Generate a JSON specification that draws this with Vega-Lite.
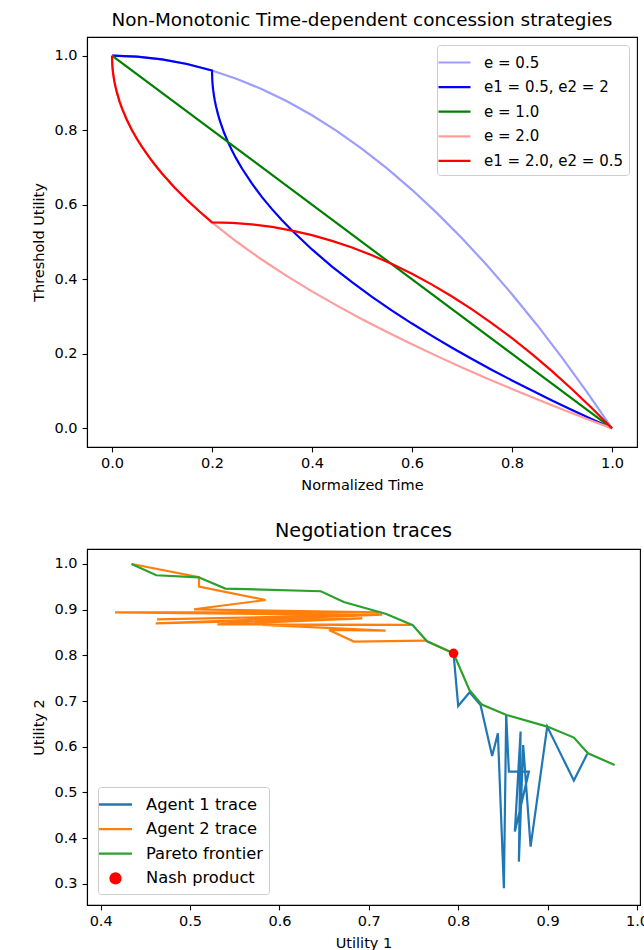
{
  "$schema": "https://vega.github.io/schema/vega-lite/v6.json",
  "padding": {"left": 30, "top": 10, "right": 5, "bottom": 5},
  "spacing": 28,
  "config": {
    "font": "DejaVu Sans",
    "view": {"stroke": "black", "strokeWidth": 1.1},
    "axis": {"grid": false, "domainColor": "black", "domainWidth": 1.1, "tickColor": "black", "tickWidth": 1.1, "tickSize": 4.9, "labelColor": "black", "titleColor": "black", "labelFontSize": 14.5, "titleFontSize": 14.5, "titleFontWeight": "normal", "labelPadding": 5, "labelFlush": false, "titlePadding": 8},
    "title": {"fontSize": 18.4, "fontWeight": "normal", "color": "black", "offset": 8},
    "legend": {"fillColor": "white", "strokeColor": "#cccccc", "cornerRadius": 3, "padding": 6, "labelFontSize": 15, "labelColor": "black", "symbolType": "M-1.6,0H1.6", "symbolSize": 400, "symbolStrokeWidth": 2.2, "labelOffset": 18, "rowPadding": 4.6, "offset": 8}
  },
  "resolve": {"scale": {"color": "independent"}, "legend": {"color": "independent"}},
  "datasets": {
    "top": [
      {"s": "e = 0.5", "t": 0, "u": 1}, {"s": "e = 0.5", "t": 0.05, "u": 0.9975}, {"s": "e = 0.5", "t": 0.1, "u": 0.99}, {"s": "e = 0.5", "t": 0.15, "u": 0.9775}, {"s": "e = 0.5", "t": 0.2, "u": 0.96}, {"s": "e = 0.5", "t": 0.25, "u": 0.9375}, {"s": "e = 0.5", "t": 0.3, "u": 0.91}, {"s": "e = 0.5", "t": 0.35, "u": 0.8775}, {"s": "e = 0.5", "t": 0.4, "u": 0.84}, {"s": "e = 0.5", "t": 0.45, "u": 0.7975}, {"s": "e = 0.5", "t": 0.5, "u": 0.75}, {"s": "e = 0.5", "t": 0.55, "u": 0.6975}, {"s": "e = 0.5", "t": 0.6, "u": 0.64}, {"s": "e = 0.5", "t": 0.65, "u": 0.5775}, {"s": "e = 0.5", "t": 0.7, "u": 0.51}, {"s": "e = 0.5", "t": 0.75, "u": 0.4375}, {"s": "e = 0.5", "t": 0.8, "u": 0.36}, {"s": "e = 0.5", "t": 0.85, "u": 0.2775}, {"s": "e = 0.5", "t": 0.9, "u": 0.19}, {"s": "e = 0.5", "t": 0.95, "u": 0.0975}, {"s": "e = 0.5", "t": 1, "u": 0},
      {"s": "e1 = 0.5, e2 = 2", "t": 0, "u": 1}, {"s": "e1 = 0.5, e2 = 2", "t": 0.05, "u": 0.9975}, {"s": "e1 = 0.5, e2 = 2", "t": 0.1, "u": 0.99}, {"s": "e1 = 0.5, e2 = 2", "t": 0.15, "u": 0.9775}, {"s": "e1 = 0.5, e2 = 2", "t": 0.2, "u": 0.96}, {"s": "e1 = 0.5, e2 = 2", "t": 0.2004, "u": 0.9385}, {"s": "e1 = 0.5, e2 = 2", "t": 0.2008, "u": 0.9297}, {"s": "e1 = 0.5, e2 = 2", "t": 0.2016, "u": 0.9171}, {"s": "e1 = 0.5, e2 = 2", "t": 0.2024, "u": 0.9074}, {"s": "e1 = 0.5, e2 = 2", "t": 0.204, "u": 0.8921}, {"s": "e1 = 0.5, e2 = 2", "t": 0.2056, "u": 0.8797}, {"s": "e1 = 0.5, e2 = 2", "t": 0.208, "u": 0.864}, {"s": "e1 = 0.5, e2 = 2", "t": 0.212, "u": 0.8424}, {"s": "e1 = 0.5, e2 = 2", "t": 0.216, "u": 0.8243}, {"s": "e1 = 0.5, e2 = 2", "t": 0.224, "u": 0.7937}, {"s": "e1 = 0.5, e2 = 2", "t": 0.232, "u": 0.768}, {"s": "e1 = 0.5, e2 = 2", "t": 0.24, "u": 0.7453}, {"s": "e1 = 0.5, e2 = 2", "t": 0.248, "u": 0.7249}, {"s": "e1 = 0.5, e2 = 2", "t": 0.26, "u": 0.6971}, {"s": "e1 = 0.5, e2 = 2", "t": 0.28, "u": 0.6564}, {"s": "e1 = 0.5, e2 = 2", "t": 0.3, "u": 0.6205}, {"s": "e1 = 0.5, e2 = 2", "t": 0.32, "u": 0.5882}, {"s": "e1 = 0.5, e2 = 2", "t": 0.34, "u": 0.5584}, {"s": "e1 = 0.5, e2 = 2", "t": 0.36, "u": 0.5307}, {"s": "e1 = 0.5, e2 = 2", "t": 0.4, "u": 0.48}, {"s": "e1 = 0.5, e2 = 2", "t": 0.44, "u": 0.4342}, {"s": "e1 = 0.5, e2 = 2", "t": 0.48, "u": 0.3921}, {"s": "e1 = 0.5, e2 = 2", "t": 0.52, "u": 0.3528}, {"s": "e1 = 0.5, e2 = 2", "t": 0.56, "u": 0.316}, {"s": "e1 = 0.5, e2 = 2", "t": 0.6, "u": 0.2812}, {"s": "e1 = 0.5, e2 = 2", "t": 0.64, "u": 0.2481}, {"s": "e1 = 0.5, e2 = 2", "t": 0.68, "u": 0.2164}, {"s": "e1 = 0.5, e2 = 2", "t": 0.72, "u": 0.186}, {"s": "e1 = 0.5, e2 = 2", "t": 0.76, "u": 0.1568}, {"s": "e1 = 0.5, e2 = 2", "t": 0.8, "u": 0.1286}, {"s": "e1 = 0.5, e2 = 2", "t": 0.84, "u": 0.1014}, {"s": "e1 = 0.5, e2 = 2", "t": 0.88, "u": 0.0749}, {"s": "e1 = 0.5, e2 = 2", "t": 0.92, "u": 0.0492}, {"s": "e1 = 0.5, e2 = 2", "t": 0.96, "u": 0.0243}, {"s": "e1 = 0.5, e2 = 2", "t": 1, "u": 0},
      {"s": "e = 1.0", "t": 0, "u": 1}, {"s": "e = 1.0", "t": 1, "u": 0},
      {"s": "e = 2.0", "t": 0, "u": 1}, {"s": "e = 2.0", "t": 0.0005, "u": 0.9776}, {"s": "e = 2.0", "t": 0.001, "u": 0.9684}, {"s": "e = 2.0", "t": 0.002, "u": 0.9553}, {"s": "e = 2.0", "t": 0.003, "u": 0.9452}, {"s": "e = 2.0", "t": 0.005, "u": 0.9293}, {"s": "e = 2.0", "t": 0.007, "u": 0.9163}, {"s": "e = 2.0", "t": 0.01, "u": 0.9}, {"s": "e = 2.0", "t": 0.015, "u": 0.8775}, {"s": "e = 2.0", "t": 0.02, "u": 0.8586}, {"s": "e = 2.0", "t": 0.03, "u": 0.8268}, {"s": "e = 2.0", "t": 0.04, "u": 0.8}, {"s": "e = 2.0", "t": 0.05, "u": 0.7764}, {"s": "e = 2.0", "t": 0.06, "u": 0.7551}, {"s": "e = 2.0", "t": 0.075, "u": 0.7261}, {"s": "e = 2.0", "t": 0.085, "u": 0.7085}, {"s": "e = 2.0", "t": 0.1, "u": 0.6838}, {"s": "e = 2.0", "t": 0.125, "u": 0.6464}, {"s": "e = 2.0", "t": 0.15, "u": 0.6127}, {"s": "e = 2.0", "t": 0.175, "u": 0.5817}, {"s": "e = 2.0", "t": 0.2, "u": 0.5528}, {"s": "e = 2.0", "t": 0.25, "u": 0.5}, {"s": "e = 2.0", "t": 0.3, "u": 0.4523}, {"s": "e = 2.0", "t": 0.35, "u": 0.4084}, {"s": "e = 2.0", "t": 0.4, "u": 0.3675}, {"s": "e = 2.0", "t": 0.45, "u": 0.3292}, {"s": "e = 2.0", "t": 0.5, "u": 0.2929}, {"s": "e = 2.0", "t": 0.55, "u": 0.2584}, {"s": "e = 2.0", "t": 0.6, "u": 0.2254}, {"s": "e = 2.0", "t": 0.65, "u": 0.1938}, {"s": "e = 2.0", "t": 0.7, "u": 0.1633}, {"s": "e = 2.0", "t": 0.75, "u": 0.134}, {"s": "e = 2.0", "t": 0.8, "u": 0.1056}, {"s": "e = 2.0", "t": 0.85, "u": 0.078}, {"s": "e = 2.0", "t": 0.9, "u": 0.0513}, {"s": "e = 2.0", "t": 0.95, "u": 0.0253}, {"s": "e = 2.0", "t": 1, "u": 0},
      {"s": "e1 = 2.0, e2 = 0.5", "t": 0, "u": 1}, {"s": "e1 = 2.0, e2 = 0.5", "t": 0.0005, "u": 0.9776}, {"s": "e1 = 2.0, e2 = 0.5", "t": 0.001, "u": 0.9684}, {"s": "e1 = 2.0, e2 = 0.5", "t": 0.002, "u": 0.9553}, {"s": "e1 = 2.0, e2 = 0.5", "t": 0.003, "u": 0.9452}, {"s": "e1 = 2.0, e2 = 0.5", "t": 0.005, "u": 0.9293}, {"s": "e1 = 2.0, e2 = 0.5", "t": 0.007, "u": 0.9163}, {"s": "e1 = 2.0, e2 = 0.5", "t": 0.01, "u": 0.9}, {"s": "e1 = 2.0, e2 = 0.5", "t": 0.015, "u": 0.8775}, {"s": "e1 = 2.0, e2 = 0.5", "t": 0.02, "u": 0.8586}, {"s": "e1 = 2.0, e2 = 0.5", "t": 0.03, "u": 0.8268}, {"s": "e1 = 2.0, e2 = 0.5", "t": 0.04, "u": 0.8}, {"s": "e1 = 2.0, e2 = 0.5", "t": 0.05, "u": 0.7764}, {"s": "e1 = 2.0, e2 = 0.5", "t": 0.06, "u": 0.7551}, {"s": "e1 = 2.0, e2 = 0.5", "t": 0.075, "u": 0.7261}, {"s": "e1 = 2.0, e2 = 0.5", "t": 0.085, "u": 0.7085}, {"s": "e1 = 2.0, e2 = 0.5", "t": 0.1, "u": 0.6838}, {"s": "e1 = 2.0, e2 = 0.5", "t": 0.125, "u": 0.6464}, {"s": "e1 = 2.0, e2 = 0.5", "t": 0.15, "u": 0.6127}, {"s": "e1 = 2.0, e2 = 0.5", "t": 0.175, "u": 0.5817}, {"s": "e1 = 2.0, e2 = 0.5", "t": 0.2, "u": 0.5528}, {"s": "e1 = 2.0, e2 = 0.5", "t": 0.24, "u": 0.5514}, {"s": "e1 = 2.0, e2 = 0.5", "t": 0.28, "u": 0.5473}, {"s": "e1 = 2.0, e2 = 0.5", "t": 0.32, "u": 0.5404}, {"s": "e1 = 2.0, e2 = 0.5", "t": 0.36, "u": 0.5307}, {"s": "e1 = 2.0, e2 = 0.5", "t": 0.4, "u": 0.5183}, {"s": "e1 = 2.0, e2 = 0.5", "t": 0.44, "u": 0.503}, {"s": "e1 = 2.0, e2 = 0.5", "t": 0.48, "u": 0.4851}, {"s": "e1 = 2.0, e2 = 0.5", "t": 0.52, "u": 0.4644}, {"s": "e1 = 2.0, e2 = 0.5", "t": 0.56, "u": 0.4409}, {"s": "e1 = 2.0, e2 = 0.5", "t": 0.6, "u": 0.4146}, {"s": "e1 = 2.0, e2 = 0.5", "t": 0.64, "u": 0.3856}, {"s": "e1 = 2.0, e2 = 0.5", "t": 0.68, "u": 0.3538}, {"s": "e1 = 2.0, e2 = 0.5", "t": 0.72, "u": 0.3192}, {"s": "e1 = 2.0, e2 = 0.5", "t": 0.76, "u": 0.2819}, {"s": "e1 = 2.0, e2 = 0.5", "t": 0.8, "u": 0.2419}, {"s": "e1 = 2.0, e2 = 0.5", "t": 0.84, "u": 0.199}, {"s": "e1 = 2.0, e2 = 0.5", "t": 0.88, "u": 0.1534}, {"s": "e1 = 2.0, e2 = 0.5", "t": 0.92, "u": 0.105}, {"s": "e1 = 2.0, e2 = 0.5", "t": 0.96, "u": 0.0539}, {"s": "e1 = 2.0, e2 = 0.5", "t": 1, "u": 0}
    ],
    "neg": [
      {"s": "Agent 1 trace", "i": 1, "u1": 0.9443, "u2": 0.5842}, {"s": "Agent 1 trace", "i": 2, "u1": 0.9294, "u2": 0.526}, {"s": "Agent 1 trace", "i": 3, "u1": 0.8996, "u2": 0.6442}, {"s": "Agent 1 trace", "i": 4, "u1": 0.881, "u2": 0.3816}, {"s": "Agent 1 trace", "i": 5, "u1": 0.8727, "u2": 0.604}, {"s": "Agent 1 trace", "i": 6, "u1": 0.8679, "u2": 0.3488}, {"s": "Agent 1 trace", "i": 7, "u1": 0.8698, "u2": 0.6333}, {"s": "Agent 1 trace", "i": 8, "u1": 0.8634, "u2": 0.4144}, {"s": "Agent 1 trace", "i": 9, "u1": 0.8791, "u2": 0.5457}, {"s": "Agent 1 trace", "i": 10, "u1": 0.8567, "u2": 0.5457}, {"s": "Agent 1 trace", "i": 11, "u1": 0.8537, "u2": 0.6696}, {"s": "Agent 1 trace", "i": 12, "u1": 0.8511, "u2": 0.2904}, {"s": "Agent 1 trace", "i": 13, "u1": 0.8444, "u2": 0.6295}, {"s": "Agent 1 trace", "i": 14, "u1": 0.838, "u2": 0.5799}, {"s": "Agent 1 trace", "i": 15, "u1": 0.825, "u2": 0.6915}, {"s": "Agent 1 trace", "i": 16, "u1": 0.8128, "u2": 0.7193}, {"s": "Agent 1 trace", "i": 17, "u1": 0.8, "u2": 0.6893}, {"s": "Agent 1 trace", "i": 18, "u1": 0.7948, "u2": 0.8046},
      {"s": "Agent 2 trace", "i": 1, "u1": 0.4347, "u2": 1.0}, {"s": "Agent 2 trace", "i": 2, "u1": 0.51, "u2": 0.971}, {"s": "Agent 2 trace", "i": 3, "u1": 0.51, "u2": 0.9505}, {"s": "Agent 2 trace", "i": 4, "u1": 0.5846, "u2": 0.9212}, {"s": "Agent 2 trace", "i": 5, "u1": 0.5044, "u2": 0.9009}, {"s": "Agent 2 trace", "i": 6, "u1": 0.711, "u2": 0.894}, {"s": "Agent 2 trace", "i": 7, "u1": 0.416, "u2": 0.8943}, {"s": "Agent 2 trace", "i": 8, "u1": 0.70, "u2": 0.888}, {"s": "Agent 2 trace", "i": 9, "u1": 0.463, "u2": 0.879}, {"s": "Agent 2 trace", "i": 10, "u1": 0.715, "u2": 0.889}, {"s": "Agent 2 trace", "i": 11, "u1": 0.4615, "u2": 0.8702}, {"s": "Agent 2 trace", "i": 12, "u1": 0.6926, "u2": 0.8812}, {"s": "Agent 2 trace", "i": 13, "u1": 0.5305, "u2": 0.868}, {"s": "Agent 2 trace", "i": 14, "u1": 0.7468, "u2": 0.8666}, {"s": "Agent 2 trace", "i": 15, "u1": 0.5808, "u2": 0.8666}, {"s": "Agent 2 trace", "i": 16, "u1": 0.7188, "u2": 0.8543}, {"s": "Agent 2 trace", "i": 17, "u1": 0.6554, "u2": 0.8556}, {"s": "Agent 2 trace", "i": 18, "u1": 0.6833, "u2": 0.8302}, {"s": "Agent 2 trace", "i": 19, "u1": 0.7635, "u2": 0.8324}, {"s": "Agent 2 trace", "i": 20, "u1": 0.7948, "u2": 0.8046},
      {"s": "Pareto frontier", "i": 1, "u1": 0.4345, "u2": 1.0}, {"s": "Pareto frontier", "i": 2, "u1": 0.4622, "u2": 0.9753}, {"s": "Pareto frontier", "i": 3, "u1": 0.5096, "u2": 0.9709}, {"s": "Pareto frontier", "i": 4, "u1": 0.5394, "u2": 0.9462}, {"s": "Pareto frontier", "i": 5, "u1": 0.6463, "u2": 0.9403}, {"s": "Pareto frontier", "i": 6, "u1": 0.672, "u2": 0.9169}, {"s": "Pareto frontier", "i": 7, "u1": 0.7195, "u2": 0.8906}, {"s": "Pareto frontier", "i": 8, "u1": 0.7492, "u2": 0.8659}, {"s": "Pareto frontier", "i": 9, "u1": 0.7651, "u2": 0.8309}, {"s": "Pareto frontier", "i": 10, "u1": 0.7948, "u2": 0.8046}, {"s": "Pareto frontier", "i": 11, "u1": 0.8125, "u2": 0.7243}, {"s": "Pareto frontier", "i": 12, "u1": 0.8264, "u2": 0.6923}, {"s": "Pareto frontier", "i": 13, "u1": 0.8541, "u2": 0.6696}, {"s": "Pareto frontier", "i": 14, "u1": 0.8997, "u2": 0.6442}, {"s": "Pareto frontier", "i": 15, "u1": 0.9294, "u2": 0.6201}, {"s": "Pareto frontier", "i": 16, "u1": 0.9452, "u2": 0.5858}, {"s": "Pareto frontier", "i": 17, "u1": 0.975, "u2": 0.5602},
      {"s": "Nash product", "i": 1, "u1": 0.7948, "u2": 0.8046}
    ]
  },
  "vconcat": [
    {
      "width": 550,
      "height": 410,
      "title": "Non-Monotonic Time-dependent concession strategies",
      "data": {"name": "top"},
      "encoding": {
        "x": {"field": "t", "type": "quantitative", "title": "Normalized Time", "scale": {"domain": [-0.05, 1.05], "nice": false, "zero": false}, "axis": {"values": [0, 0.2, 0.4, 0.6, 0.8, 1.0], "format": ".1f"}},
        "y": {"field": "u", "type": "quantitative", "title": "Threshold Utility", "scale": {"domain": [-0.05, 1.05], "nice": false, "zero": false}, "axis": {"values": [0, 0.2, 0.4, 0.6, 0.8, 1.0], "format": ".1f"}},
        "color": {"field": "s", "type": "nominal", "scale": {"domain": ["e = 0.5", "e1 = 0.5, e2 = 2", "e = 1.0", "e = 2.0", "e1 = 2.0, e2 = 0.5"], "range": ["#9d9dff", "#0000ff", "#008000", "#ff9d9d", "#ff0000"]}, "legend": {"title": null, "orient": "top-right"}},
        "order": {"field": "t", "type": "quantitative"}
      },
      "layer": [
        {"transform": [{"filter": "datum.s === 'e = 0.5'"}], "mark": {"type": "line", "strokeWidth": 2.2}},
        {"transform": [{"filter": "datum.s === 'e1 = 0.5, e2 = 2'"}], "mark": {"type": "line", "strokeWidth": 2.2}},
        {"transform": [{"filter": "datum.s === 'e = 1.0'"}], "mark": {"type": "line", "strokeWidth": 2.2}},
        {"transform": [{"filter": "datum.s === 'e = 2.0'"}], "mark": {"type": "line", "strokeWidth": 2.2}},
        {"transform": [{"filter": "datum.s === 'e1 = 2.0, e2 = 0.5'"}], "mark": {"type": "line", "strokeWidth": 2.2}}
      ]
    },
    {
      "width": 553,
      "height": 356,
      "title": {"text": "Negotiation traces", "fontSize": 19.2},
      "data": {"name": "neg"},
      "encoding": {
        "x": {"field": "u1", "type": "quantitative", "title": "Utility 1", "scale": {"domain": [0.3847, 1.0034], "nice": false, "zero": false}, "axis": {"values": [0.4, 0.5, 0.6, 0.7, 0.8, 0.9, 1.0], "format": ".1f"}},
        "y": {"field": "u2", "type": "quantitative", "title": "Utility 2", "scale": {"domain": [0.2538, 1.0328], "nice": false, "zero": false}, "axis": {"values": [0.3, 0.4, 0.5, 0.6, 0.7, 0.8, 0.9, 1.0], "format": ".1f"}},
        "color": {"field": "s", "type": "nominal", "scale": {"domain": ["Agent 1 trace", "Agent 2 trace", "Pareto frontier", "Nash product"], "range": ["#1f77b4", "#ff7f0e", "#2ca02c", "#ff0000"]}, "legend": {"title": null, "orient": "bottom-left", "offset": 11, "labelFontSize": 16.3, "labelOffset": 19, "encode": {"symbols": {"update": {"shape": {"signal": "datum.value === 'Nash product' ? 'circle' : 'M-1.65,0H1.65'"}, "size": {"signal": "datum.value === 'Nash product' ? 100 : 400"}, "fill": {"signal": "datum.value === 'Nash product' ? '#ff0000' : 'transparent'"}, "stroke": {"signal": "datum.value === 'Agent 1 trace' ? '#1f77b4' : datum.value === 'Agent 2 trace' ? '#ff7f0e' : datum.value === 'Pareto frontier' ? '#2ca02c' : 'transparent'"}, "strokeWidth": {"value": 2.3}, "opacity": {"value": 1}}}}}},
        "order": {"field": "i", "type": "quantitative"}
      },
      "layer": [
        {"transform": [{"filter": "datum.s === 'Agent 1 trace'"}], "mark": {"type": "line", "strokeWidth": 2.2}},
        {"transform": [{"filter": "datum.s === 'Agent 2 trace'"}], "mark": {"type": "line", "strokeWidth": 2.2}},
        {"transform": [{"filter": "datum.s === 'Pareto frontier'"}], "mark": {"type": "line", "strokeWidth": 2.2}},
        {"transform": [{"filter": "datum.s === 'Nash product'"}], "mark": {"type": "point", "filled": true, "shape": "circle", "size": 90, "opacity": 1}}
      ]
    }
  ]
}
